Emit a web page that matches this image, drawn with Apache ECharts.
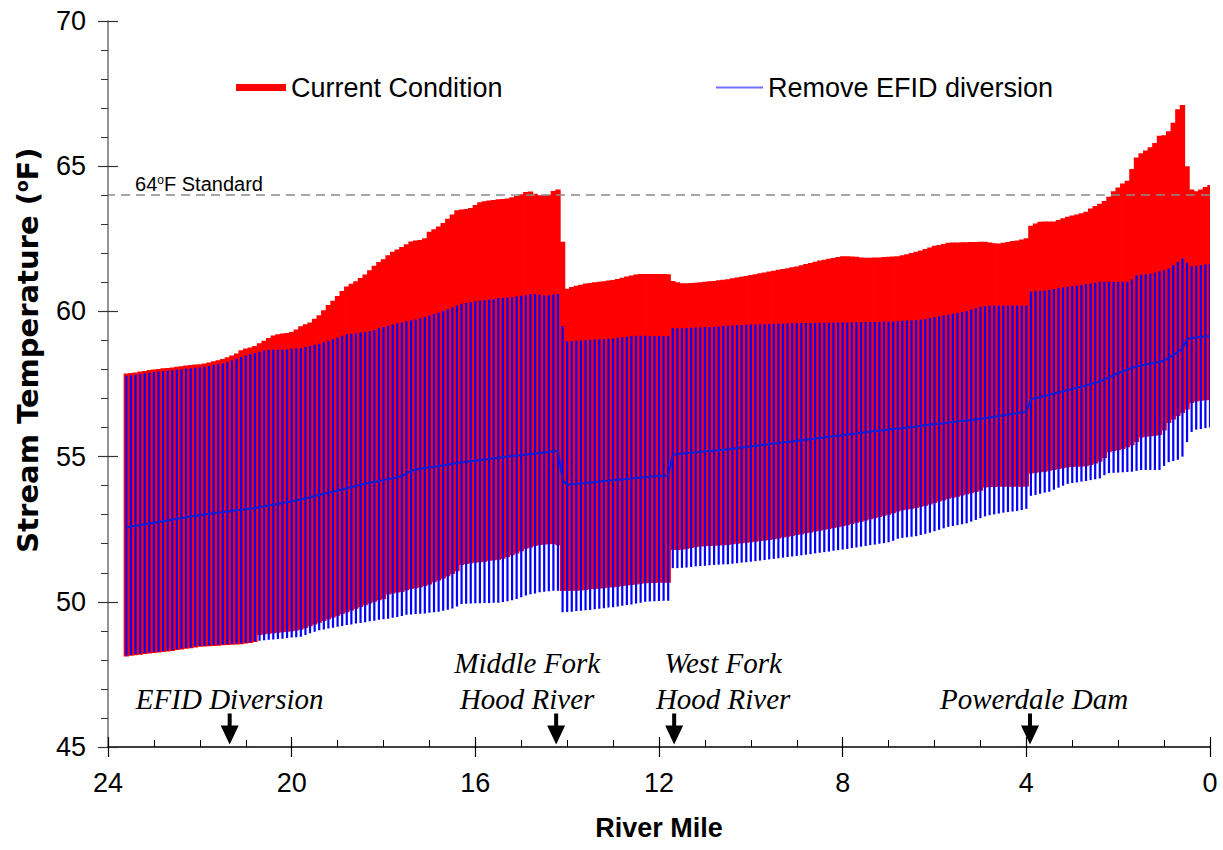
<!DOCTYPE html>
<html>
<head>
<meta charset="utf-8">
<script src="https://cdn.jsdelivr.net/npm/echarts@6/dist/echarts.min.js"></script>
<style>html,body{margin:0;padding:0;background:#fff}#chart{width:1223px;height:850px}</style>
</head>
<body>
<div id="chart"></div>
<script>
// ---------------- DATA ----------------
const riverMiles = [
  23.6,23.5,23.4,23.3,23.2,23.1,23.0,
  22.9,22.8,22.7,22.6,22.5,22.4,22.3,22.2,22.1,22.0,
  21.9,21.8,21.7,21.6,21.5,21.4,21.3,21.2,21.1,21.0,
  20.9,20.8,20.7,20.6,20.5,20.4,20.3,20.2,20.1,20.0,
  19.9,19.8,19.7,19.6,19.5,19.4,19.3,19.2,19.1,19.0,
  18.9,18.8,18.7,18.6,18.5,18.4,18.3,18.2,18.1,18.0,
  17.9,17.8,17.7,17.6,17.5,17.4,17.3,17.2,17.1,17.0,
  16.9,16.8,16.7,16.6,16.5,16.4,16.3,16.2,16.1,16.0,
  15.9,15.8,15.7,15.6,15.5,15.4,15.3,15.2,15.1,15.0,
  14.9,14.8,14.7,14.6,14.5,14.4,14.3,14.2,14.1,14.0,
  13.9,13.8,13.7,13.6,13.5,13.4,13.3,13.2,13.1,13.0,
  12.9,12.8,12.7,12.6,12.5,12.4,12.3,12.2,12.1,12.0,
  11.9,11.8,11.7,11.6,11.5,11.4,11.3,11.2,11.1,11.0,
  10.9,10.8,10.7,10.6,10.5,10.4,10.3,10.2,10.1,10.0,
  9.9,9.8,9.7,9.6,9.5,9.4,9.3,9.2,9.1,9.0,
  8.9,8.8,8.7,8.6,8.5,8.4,8.3,8.2,8.1,8.0,
  7.9,7.8,7.7,7.6,7.5,7.4,7.3,7.2,7.1,7.0,
  6.9,6.8,6.7,6.6,6.5,6.4,6.3,6.2,6.1,6.0,
  5.9,5.8,5.7,5.6,5.5,5.4,5.3,5.2,5.1,5.0,
  4.9,4.8,4.7,4.6,4.5,4.4,4.3,4.2,4.1,4.0,
  3.9,3.8,3.7,3.6,3.5,3.4,3.3,3.2,3.1,3.0,
  2.9,2.8,2.7,2.6,2.5,2.4,2.3,2.2,2.1,2.0,
  1.9,1.8,1.7,1.6,1.5,1.4,1.3,1.2,1.1,1.0,
  0.9,0.8,0.7,0.6,0.5,0.4,0.3,0.2,0.1,0.0
];

// Current Condition: daily minimum / maximum
const currentMax = [
  57.86,57.88,57.90,57.93,57.95,57.98,58.00,
  58.02,58.04,58.05,58.07,58.09,58.11,58.14,58.15,58.17,58.18,
  58.21,58.24,58.28,58.32,58.36,58.42,58.48,58.55,58.66,58.72,
  58.76,58.81,58.90,58.99,59.08,59.17,59.21,59.24,59.26,59.29,
  59.38,59.49,59.56,59.62,59.75,59.87,60.04,60.22,60.37,60.53,
  60.70,60.86,60.95,61.04,61.15,61.27,61.42,61.57,61.70,61.80,
  61.93,62.05,62.13,62.22,62.31,62.41,62.44,62.46,62.52,62.74,
  62.83,62.92,63.04,63.19,63.34,63.48,63.51,63.53,63.56,63.66,
  63.76,63.79,63.82,63.84,63.86,63.87,63.89,63.93,63.97,64.03,
  64.11,64.13,64.05,64.00,64.00,64.02,64.15,64.20,62.40,60.78,
  60.84,60.88,60.92,60.96,60.98,61.00,61.02,61.04,61.06,61.08,
  61.12,61.16,61.20,61.24,61.27,61.29,61.29,61.29,61.29,61.29,
  61.29,61.28,61.05,61.00,60.97,60.97,60.98,60.99,61.00,61.02,
  61.04,61.05,61.07,61.09,61.11,61.14,61.17,61.19,61.22,61.25,
  61.28,61.31,61.34,61.37,61.40,61.43,61.46,61.49,61.52,61.55,
  61.59,61.63,61.67,61.71,61.75,61.78,61.81,61.84,61.87,61.90,
  61.90,61.89,61.88,61.86,61.85,61.85,61.86,61.86,61.87,61.88,
  61.89,61.90,61.93,61.97,62.01,62.05,62.10,62.15,62.20,62.26,
  62.29,62.32,62.36,62.37,62.37,62.38,62.38,62.39,62.39,62.40,
  62.40,62.37,62.35,62.34,62.36,62.39,62.42,62.44,62.48,62.52,
  62.95,63.03,63.09,63.10,63.10,63.10,63.15,63.21,63.26,63.30,
  63.34,63.38,63.43,63.54,63.63,63.71,63.80,63.95,64.14,64.27,
  64.40,64.50,64.90,65.30,65.45,65.54,65.65,65.80,66.05,66.07,
  66.20,66.50,66.96,67.11,65.00,64.20,64.14,64.20,64.28,64.35
];
const currentMin = [
  48.12,48.14,48.16,48.18,48.20,48.22,48.24,
  48.25,48.27,48.29,48.31,48.34,48.36,48.38,48.40,48.43,48.45,
  48.46,48.47,48.48,48.49,48.50,48.51,48.52,48.53,48.54,48.56,
  48.58,48.62,48.86,48.88,48.90,48.92,48.93,48.95,48.97,48.99,
  49.01,49.04,49.10,49.16,49.22,49.28,49.34,49.40,49.46,49.52,
  49.58,49.64,49.70,49.76,49.82,49.88,49.94,50.00,50.05,50.10,
  50.25,50.29,50.32,50.34,50.40,50.44,50.47,50.50,50.54,50.60,
  50.67,50.73,50.80,50.88,50.96,51.05,51.27,51.30,51.33,51.35,
  51.36,51.38,51.41,51.43,51.45,51.48,51.54,51.60,51.66,51.74,
  51.83,51.87,51.92,51.96,51.97,51.98,51.99,51.95,50.37,50.37,
  50.38,50.38,50.39,50.41,50.43,50.44,50.46,50.47,50.49,50.50,
  50.52,50.54,50.56,50.58,50.60,50.62,50.64,50.65,50.65,50.66,
  50.66,50.66,51.78,51.78,51.79,51.82,51.85,51.88,51.90,51.91,
  51.92,51.93,51.94,51.95,51.96,51.98,52.00,52.02,52.03,52.05,
  52.07,52.09,52.11,52.13,52.15,52.18,52.21,52.24,52.27,52.30,
  52.33,52.36,52.39,52.42,52.45,52.48,52.51,52.54,52.57,52.60,
  52.64,52.68,52.72,52.76,52.80,52.84,52.88,52.92,52.96,53.00,
  53.05,53.11,53.15,53.18,53.20,53.23,53.27,53.31,53.35,53.40,
  53.45,53.50,53.55,53.58,53.62,53.66,53.70,53.74,53.78,53.82,
  53.94,53.95,53.95,53.96,53.96,53.96,53.96,53.96,53.96,53.97,
  54.42,54.44,54.46,54.48,54.51,54.54,54.57,54.60,54.63,54.64,
  54.65,54.66,54.67,54.71,54.76,54.82,54.95,55.15,55.19,55.22,
  55.26,55.32,55.39,55.50,55.66,55.68,55.70,55.72,55.74,55.90,
  56.16,56.28,56.40,56.50,56.62,56.85,56.90,56.92,56.94,56.95
];

// Remove EFID diversion: daily minimum / maximum / mean
const removeMax = [
  57.78,57.80,57.82,57.85,57.87,57.89,57.91,
  57.93,57.94,57.96,57.98,57.99,58.01,58.03,58.04,58.06,58.07,
  58.10,58.12,58.15,58.18,58.21,58.26,58.32,58.38,58.43,58.48,
  58.53,58.57,58.61,58.65,58.67,58.68,58.68,58.69,58.70,58.71,
  58.72,58.74,58.77,58.81,58.85,58.89,58.94,58.99,59.04,59.10,
  59.16,59.21,59.23,59.25,59.27,59.29,59.32,59.36,59.42,59.46,
  59.51,59.55,59.59,59.62,59.66,59.69,59.72,59.76,59.81,59.86,
  59.91,59.96,60.01,60.08,60.14,60.20,60.26,60.29,60.32,60.35,
  60.37,60.39,60.41,60.43,60.45,60.46,60.48,60.50,60.52,60.54,
  60.56,60.59,60.60,60.57,60.55,60.56,60.58,60.60,59.50,58.97,
  58.98,58.99,59.00,59.01,59.02,59.03,59.04,59.05,59.06,59.07,
  59.09,59.11,59.13,59.15,59.16,59.16,59.16,59.15,59.15,59.15,
  59.15,59.15,59.42,59.42,59.42,59.43,59.44,59.45,59.45,59.46,
  59.46,59.47,59.48,59.50,59.51,59.52,59.53,59.53,59.54,59.55,
  59.55,59.56,59.56,59.57,59.57,59.58,59.58,59.59,59.59,59.60,
  59.60,59.60,59.60,59.61,59.61,59.61,59.61,59.62,59.62,59.62,
  59.62,59.62,59.63,59.63,59.63,59.64,59.64,59.64,59.65,59.65,
  59.66,59.67,59.68,59.69,59.69,59.70,59.72,59.74,59.77,59.80,
  59.83,59.86,59.89,59.92,59.95,59.98,60.01,60.06,60.11,60.16,
  60.18,60.20,60.20,60.20,60.20,60.20,60.20,60.20,60.20,60.20,
  60.68,60.70,60.71,60.72,60.74,60.77,60.80,60.83,60.85,60.87,
  60.89,60.91,60.94,60.96,60.99,61.02,61.02,61.02,61.02,61.02,
  61.02,61.02,61.10,61.24,61.26,61.28,61.30,61.33,61.38,61.42,
  61.48,61.60,61.70,61.82,61.68,61.55,61.57,61.59,61.62,61.64
];
const removeMin = [
  48.15,48.17,48.19,48.21,48.23,48.25,48.27,
  48.28,48.30,48.32,48.34,48.37,48.39,48.41,48.43,48.46,48.48,
  48.49,48.50,48.51,48.52,48.53,48.54,48.55,48.56,48.57,48.59,
  48.61,48.64,48.66,48.68,48.69,48.70,48.72,48.73,48.75,48.77,
  48.78,48.80,48.86,48.92,48.97,49.02,49.05,49.08,49.11,49.14,
  49.17,49.20,49.22,49.25,49.27,49.30,49.33,49.35,49.38,49.40,
  49.42,49.45,49.48,49.51,49.55,49.56,49.58,49.59,49.60,49.62,
  49.64,49.66,49.69,49.73,49.77,49.84,49.92,49.93,49.94,49.95,
  49.95,49.96,49.96,49.97,49.97,49.99,50.02,50.05,50.10,50.16,
  50.22,50.26,50.29,50.33,50.35,50.36,50.38,50.38,49.64,49.65,
  49.66,49.68,49.69,49.71,49.72,49.74,49.76,49.78,49.80,49.81,
  49.84,49.86,49.89,49.91,49.94,49.97,50.00,50.01,50.02,50.03,
  50.04,50.04,51.16,51.16,51.17,51.18,51.20,51.22,51.23,51.24,
  51.26,51.27,51.28,51.29,51.29,51.31,51.33,51.35,51.36,51.38,
  51.40,51.42,51.44,51.46,51.48,51.50,51.52,51.54,51.56,51.58,
  51.60,51.62,51.64,51.67,51.69,51.71,51.73,51.76,51.78,51.80,
  51.82,51.85,51.87,51.90,51.92,51.95,51.97,52.00,52.02,52.05,
  52.10,52.17,52.20,52.22,52.24,52.26,52.30,52.34,52.38,52.43,
  52.48,52.53,52.58,52.61,52.64,52.67,52.70,52.76,52.82,52.88,
  52.94,52.98,53.01,53.04,53.07,53.09,53.11,53.13,53.16,53.20,
  53.65,53.68,53.72,53.76,53.79,53.86,53.93,54.00,54.06,54.09,
  54.11,54.14,54.16,54.19,54.22,54.25,54.36,54.43,54.44,54.45,
  54.46,54.47,54.48,54.51,54.54,54.54,54.54,54.54,54.54,54.68,
  54.81,54.85,54.89,55.00,55.50,55.85,55.93,55.95,55.98,56.00
];
const removeMean = [
  52.56,52.59,52.62,52.64,52.67,52.70,52.72,
  52.75,52.78,52.80,52.83,52.86,52.88,52.91,52.94,52.96,52.99,
  53.01,53.03,53.05,53.07,53.09,53.11,53.13,53.15,53.17,53.19,
  53.21,53.23,53.26,53.29,53.32,53.35,53.37,53.40,53.43,53.46,
  53.49,53.52,53.56,53.60,53.64,53.68,53.72,53.75,53.79,53.83,
  53.87,53.91,53.95,53.99,54.03,54.07,54.10,54.13,54.16,54.19,
  54.22,54.25,54.29,54.33,54.41,54.51,54.55,54.58,54.61,54.63,
  54.65,54.68,54.70,54.73,54.75,54.78,54.80,54.82,54.84,54.86,
  54.88,54.90,54.92,54.94,54.96,54.98,55.00,55.02,55.04,55.05,
  55.07,55.09,55.11,55.12,55.14,55.16,55.18,55.19,54.20,54.03,
  54.05,54.06,54.08,54.09,54.11,54.12,54.14,54.16,54.17,54.19,
  54.20,54.22,54.23,54.25,54.26,54.28,54.29,54.31,54.32,54.33,
  54.34,54.35,55.05,55.09,55.10,55.12,55.13,55.15,55.16,55.18,
  55.19,55.21,55.22,55.24,55.25,55.27,55.29,55.31,55.33,55.35,
  55.37,55.39,55.41,55.43,55.45,55.47,55.49,55.51,55.52,55.54,
  55.56,55.58,55.60,55.62,55.64,55.66,55.68,55.70,55.72,55.74,
  55.76,55.78,55.80,55.82,55.84,55.86,55.88,55.90,55.91,55.93,
  55.95,55.97,55.98,56.00,56.02,56.04,56.06,56.08,56.10,56.12,
  56.13,56.15,56.17,56.19,56.21,56.23,56.24,56.26,56.28,56.30,
  56.32,56.35,56.37,56.40,56.42,56.45,56.47,56.50,56.52,56.55,
  56.97,57.01,57.05,57.09,57.13,57.17,57.21,57.25,57.29,57.33,
  57.37,57.41,57.45,57.50,57.54,57.58,57.66,57.73,57.80,57.87,
  57.93,57.99,58.06,58.10,58.14,58.17,58.20,58.23,58.26,58.31,
  58.40,58.50,58.60,58.72,59.04,59.08,59.10,59.12,59.14,59.15
];

const standardTemp = 64;
const landmarkNames = ['EFID Diversion', 'Middle Fork\nHood River', 'West Fork\nHood River', 'Powerdale Dam'];
const landmarkMiles = [21.35, 14.24, 11.67, 3.92];
const seriesNames = ['Current Condition', 'Remove EFID diversion'];

// ---------------- STYLE / LAYOUT ----------------
[currentMax, currentMin, removeMax, removeMin, removeMean].forEach(a => {
  if (a.length !== riverMiles.length) throw new Error('length mismatch ' + a.length);
});
const RED = '#ff0000', BLUE = '#0000ff';
const SANS = '"Liberation Sans", Arial, sans-serif';
const SERIF = '"Liberation Serif", "Times New Roman", serif';
const labelDx = [0, -29, 49, 4];
const ARROW_Y = 45.62;
const ARROW = 'path://M7,0 L11,0 L11,12 L18,12 L9,31 L0,12 L7,12 Z';

function stepPx(api, i) {
  const m = riverMiles[i];
  const n = i + 1 < riverMiles.length ? riverMiles[i + 1] : m - (riverMiles[i - 1] - m);
  return Math.abs(api.coord([n, 50])[0] - api.coord([m, 50])[0]);
}

const chart = echarts.init(document.getElementById('chart'), null, { renderer: 'svg' });
chart.setOption({
  animation: false,
  backgroundColor: '#fff',
  textStyle: { fontFamily: SANS, color: '#000' },
  grid: { left: 108, right: 13, top: 21, bottom: 103, containLabel: false },
  legend: [
    {
      data: [{ name: seriesNames[0], icon: 'rect', itemStyle: { color: RED } }],
      left: 236, top: 74, padding: 0, itemWidth: 50, itemHeight: 7, selectedMode: false,
      textStyle: { fontSize: 27, color: '#000', fontFamily: SANS }
    },
    {
      data: [{ name: seriesNames[1], icon: 'rect', itemStyle: { color: '#7070ff' } }],
      left: 716, top: 74, padding: 0, itemWidth: 47, itemHeight: 2, selectedMode: false,
      textStyle: { fontSize: 27, color: '#000', fontFamily: SANS }
    }
  ],
  xAxis: [
    {
      type: 'value', min: 0, max: 24, interval: 4, inverse: true,
      name: 'River Mile', nameLocation: 'middle', nameGap: 67,
      nameTextStyle: { fontSize: 27, fontWeight: 'bold', fontFamily: SANS, color: '#000' },
      axisLine: { show: true, onZero: false, lineStyle: { color: '#000', width: 1.5 } },
      axisTick: { show: true, inside: true, length: 10, lineStyle: { color: '#000', width: 1.2 } },
      minorTick: { show: true, splitNumber: 4, length: 7, lineStyle: { color: '#000', width: 1 } },
      axisLabel: { fontSize: 27, color: '#000', margin: 22, fontFamily: SANS },
      splitLine: { show: false }
    },
    {
      type: 'value', min: 0, max: 24, interval: 4, inverse: true, position: 'bottom',
      axisLine: { show: false, onZero: false },
      axisTick: { show: true, inside: false, length: 10, lineStyle: { color: '#000', width: 1.2 } },
      axisLabel: { show: false }, splitLine: { show: false }
    }
  ],
  yAxis: [
    {
      type: 'value', min: 45, max: 70, interval: 5,
      name: '{a|Stream Temperature (}{s|o}{a|F)}', nameLocation: 'middle', nameGap: 66,
      nameTextStyle: {
        padding: [0, 0, 0, 68],
        rich: {
          a: { fontSize: 29, fontWeight: 'bold', fontFamily: '"DejaVu Sans", sans-serif', color: '#000' },
          s: { fontSize: 17, fontWeight: 'bold', fontFamily: '"DejaVu Sans", sans-serif', color: '#000', verticalAlign: 'top' }
        }
      },
      axisLine: { show: true, onZero: false, lineStyle: { color: '#707070', width: 1.5 } },
      axisTick: { show: true, inside: false, length: 10, lineStyle: { color: '#333', width: 1.2 } },
      minorTick: { show: true, splitNumber: 5, length: 7, lineStyle: { color: '#333', width: 1 } },
      axisLabel: { fontSize: 27, color: '#000', margin: 22, fontFamily: SANS },
      splitLine: { show: false }
    },
    {
      type: 'value', min: 45, max: 70, interval: 5, position: 'left',
      axisLine: { show: false, onZero: false },
      axisTick: { show: true, inside: true, length: 10, lineStyle: { color: '#333', width: 1.2 } },
      axisLabel: { show: false }, splitLine: { show: false }
    }
  ],
  series: [
    {
      name: seriesNames[0], type: 'custom', clip: true, z: 2,
      data: riverMiles.map((m, i) => [m, currentMin[i], currentMax[i]]),
      encode: { x: 0, y: [1, 2] },
      renderItem: (params, api) => {
        const i = params.dataIndex;
        const m = api.value(0);
        const top = api.coord([m, api.value(2)]);
        const bot = api.coord([m, api.value(1)]);
        const w = stepPx(api, i);
        return { type: 'rect', shape: { x: top[0] - w / 2 - 0.4, y: top[1], width: w + 0.8, height: bot[1] - top[1] }, style: { fill: RED } };
      }
    },
    {
      name: seriesNames[1], type: 'custom', clip: true, z: 3,
      data: riverMiles.map((m, i) => [m, removeMin[i], removeMax[i]]),
      encode: { x: 0, y: [1, 2] },
      renderItem: (params, api) => {
        const m = api.value(0);
        const top = api.coord([m, api.value(2)]);
        const bot = api.coord([m, api.value(1)]);
        return { type: 'rect', shape: { x: top[0] - 1.1, y: top[1], width: 2.2, height: bot[1] - top[1] }, style: { fill: BLUE } };
      }
    },
    {
      name: 'Remove EFID diversion (mean)', type: 'line', z: 4,
      data: riverMiles.map((m, i) => [m, removeMean[i]]),
      showSymbol: false, symbol: 'none',
      lineStyle: { color: '#0a1ed8', width: 2 },
      markLine: {
        silent: true, symbol: 'none',
        lineStyle: { color: '#8a8a8a', type: [9, 6], width: 1.5 },
        label: { show: false },
        data: [{ yAxis: standardTemp }]
      },
      markPoint: {
        silent: true, symbol: 'circle', symbolSize: 0,
        data: [{ coord: [23.41, 64.39] }],
        label: {
          show: true, position: 'right', distance: 0,
          formatter: '{n|' + standardTemp + '}{s|o}{n|F Standard}',
          rich: {
            n: { fontSize: 20, fontFamily: SANS, color: '#000' },
            s: { fontSize: 12, fontFamily: SANS, color: '#000', verticalAlign: 'top' }
          }
        }
      }
    },
    {
      name: 'landmarks', type: 'scatter', z: 6, silent: true,
      symbol: ARROW, symbolSize: [18, 31],
      itemStyle: { color: '#000', opacity: 1 },
      data: landmarkMiles.map((m, i) => ({ value: [m, ARROW_Y], name: landmarkNames[i], label: { offset: [labelDx[i], 4] } })),
      label: {
        show: true, position: 'top', distance: 0, formatter: p => p.name,
        fontFamily: SERIF, fontStyle: 'italic', fontSize: 29, lineHeight: 36, color: '#000', align: 'center', opacity: 1
      }
    }
  ]
});
</script>
</body>
</html>
